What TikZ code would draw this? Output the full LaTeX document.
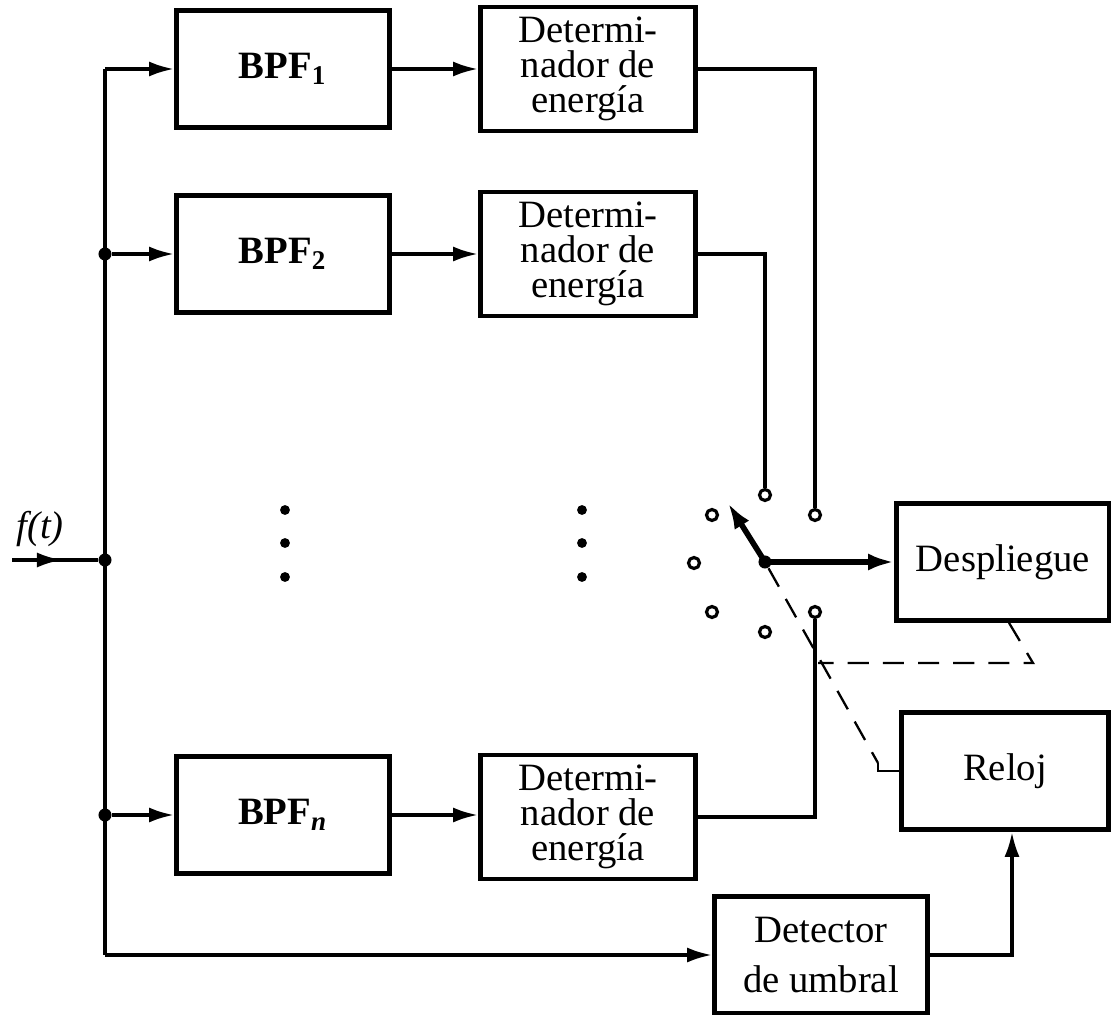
\documentclass[tikz,border=0pt]{standalone}
\usepackage{fontspec}
\setmainfont{Liberation Serif}
\usetikzlibrary{arrows.meta}

\begin{document}
\begin{tikzpicture}[
  x=0.01cm, y=-0.01cm,
  box/.style={draw, line width=1.3pt, minimum width=2.13cm, minimum height=1.17cm,
              align=center, inner sep=1pt, font=\fontsize{11}{10}\selectfont},
  bpf/.style={box, font=\fontsize{11}{13}\selectfont\bfseries},
  det/.style={box, minimum width=2.15cm, minimum height=1.24cm},
  arr/.style={-{Latex[length=2.5mm,width=1.5mm]}, line width=1pt},
  wire/.style={line width=1pt},
  swl/.style={line width=1.6pt, -{Latex[length=2.6mm,width=1.7mm]}},
  dsh/.style={dash pattern=on 6pt off 4pt, line width=0.65pt},
  contact/.style={circle, draw, fill=white, line width=0.9pt,
                  inner sep=0pt, minimum size=0.11cm},
  dot/.style={circle, fill, inner sep=0pt, minimum size=0.13cm},
]
  \useasboundingbox (0,0) rectangle (1111,1015);

  % filter banks
  \node[bpf] (bpf1) at (283,69)  {BPF\textsubscript{1}};
  \node[det] (det1) at (588,69)  {Determi-\\nador de\\energía};
  \node[bpf] (bpf2) at (283,254) {BPF\textsubscript{2}};
  \node[det] (det2) at (588,254) {Determi-\\nador de\\energía};
  \node[bpf] (bpfn) at (283,815) {BPF\textsubscript{\itshape n}};
  \node[det] (detn) at (588,817) {Determi-\\nador de\\energía};

  \node[box] (desp) at (1003,562) {Despliegue};
  \node[box, minimum width=2.07cm] (reloj) at (1005,771) {Reloj};
  \node[box, font=\fontsize{11}{14}\selectfont] (umbral) at (821,955)
    {Detector\\de umbral};

  % input and bus
  \coordinate (fin) at (12,560);
  \coordinate (fmid) at (62,560);
  \node[dot] (jin) at (105,560) {};
  \node[font=\itshape\fontsize{11}{13}\selectfont] (flab) at (40,529) {f(t)};
  \coordinate (jtop) at (105,69);
  \node[dot] (j2) at (105,254) {};
  \node[dot] (jn) at (105,815) {};
  \coordinate (jbot) at (105,955);

  \draw[wire] (jtop) -- (jbot);
  \draw[wire] (fin) -- (jin);
  \draw[arr] (fin) -- (fmid);
  \draw[arr] (jtop) -- (bpf1);
  \draw[arr] (j2) -- (bpf2);
  \draw[arr] (jn) -- (bpfn);
  \draw[arr] (jbot) -- (umbral);

  \draw[arr] (bpf1) -- (det1);
  \draw[arr] (bpf2) -- (det2);
  \draw[arr] (bpfn) -- (bpfn -| detn.west);

  % vertical dots
  \foreach \xx in {285,582}
    \foreach \yy in {510,543,577}
      \fill (\xx,\yy) circle (1.4pt);

  % rotary switch
  \foreach \n/\xx/\yy in {1/765/495, 2/815/515, 3/712/515, 4/694/563,
                          5/712/612, 6/765/632, 7/815/612}
    \node[contact] (c\n) at (\xx,\yy) {};
  \draw[wire] (det1) -| (c2);
  \draw[wire] (det2) -| (c1);
  \draw[wire] (detn) -| (c7);

  \node[dot] (piv) at (765,562) {};
  \coordinate (arm) at (728,503);
  \draw[swl] (piv.center) -- (arm);
  \draw[swl] (piv.center) -- (desp);

  % mechanical links
  \coordinate (rk) at (878,763);
  \draw[dsh] (piv) -- (rk);
  \draw[wire, line width=0.8pt] (rk) |- (reloj);
  \coordinate (lk1) at (1033,663);
  \coordinate (lk2) at (818,663);
  \draw[dsh] ([xshift=0.06cm]desp.south) -- (lk1) -- (lk2);

  \draw[arr] (umbral) -| ([xshift=0.07cm]reloj.south);
\end{tikzpicture}
\end{document}
